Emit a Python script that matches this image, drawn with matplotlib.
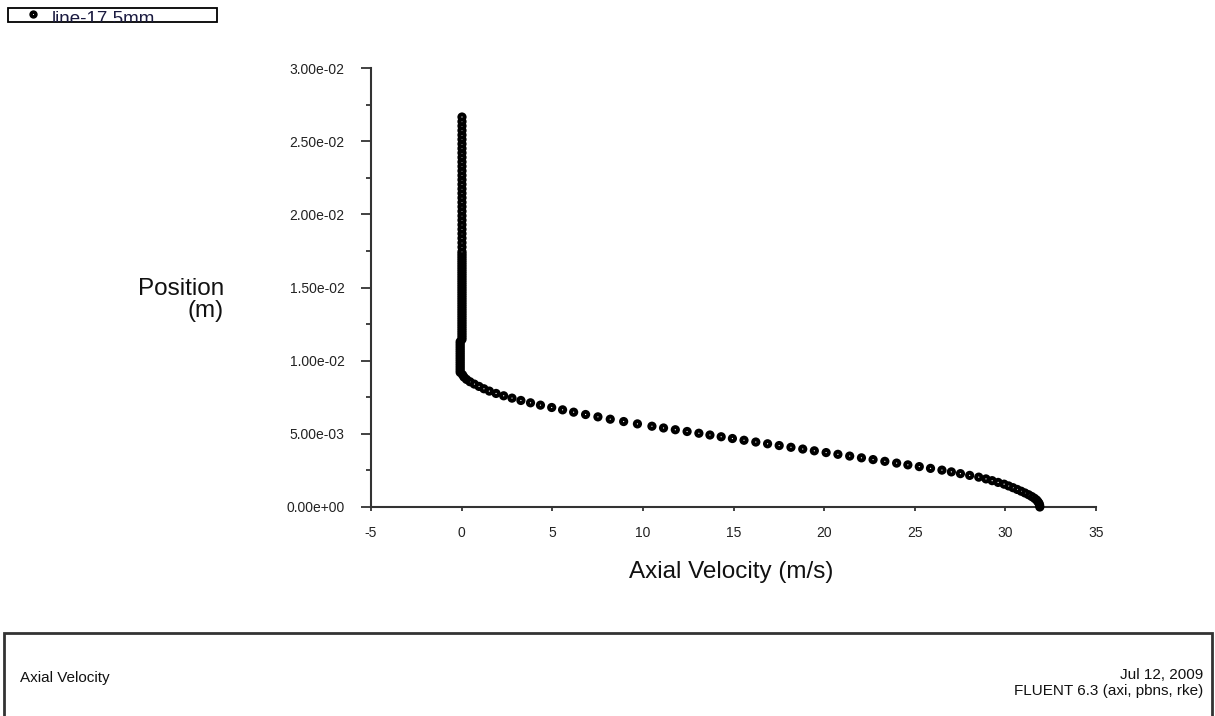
import numpy as np
import matplotlib
matplotlib.use('Agg')
import matplotlib.pyplot as plt
from matplotlib.patches import Rectangle

plt.rcParams['font.family'] = ['Liberation Sans', 'DejaVu Sans']

# perfil radial da velocidade axial (linha a 17.5 mm)
# jato: posicao em mm, velocidade em m/s
r_jato_mm = [0.00, 0.12, 0.24, 0.36, 0.48, 0.60, 0.72, 0.84, 0.96, 1.08,
             1.20, 1.32, 1.44, 1.56, 1.68, 1.80, 1.92, 2.04, 2.16, 2.28,
             2.40, 2.52, 2.64, 2.76, 2.88, 3.00, 3.12, 3.24, 3.36, 3.48,
             3.60, 3.72, 3.84, 3.96, 4.08, 4.20, 4.32, 4.44, 4.56, 4.68,
             4.80, 4.92, 5.04, 5.16, 5.28, 5.40, 5.52, 5.68, 5.84, 6.00,
             6.16, 6.32, 6.48, 6.64, 6.80, 6.96, 7.12, 7.28, 7.44, 7.60,
             7.76, 7.92, 8.08, 8.24, 8.40, 8.56, 8.72, 8.88, 9.04]
u_jato = [31.90, 31.89, 31.86, 31.80, 31.72, 31.60, 31.45, 31.28, 31.08, 30.87,
          30.65, 30.42, 30.18, 29.93, 29.60, 29.27, 28.93, 28.53, 28.03, 27.52,
          27.02, 26.50, 25.87, 25.25, 24.62, 24.00, 23.35, 22.70, 22.06, 21.41,
          20.76, 20.11, 19.46, 18.82, 18.17, 17.52, 16.88, 16.23, 15.58, 14.94,
          14.32, 13.70, 13.09, 12.44, 11.79, 11.14, 10.50, 9.70, 8.94, 8.20,
          7.52, 6.84, 6.18, 5.57, 4.97, 4.35, 3.80, 3.27, 2.78, 2.32,
          1.90, 1.53, 1.23, 0.96, 0.70, 0.46, 0.27, 0.13, 0.05]

# regiao parada (malha fina)
r_parado_mm = [9.20, 9.35, 9.50, 9.65, 9.80, 9.95, 10.10, 10.25, 10.40, 10.55,
               10.70, 10.85, 11.00, 11.15, 11.30, 11.45, 11.60, 11.75, 11.90, 12.05,
               12.20, 12.35, 12.50, 12.65, 12.80, 12.95, 13.10, 13.25, 13.40, 13.55,
               13.70, 13.85, 14.00, 14.15, 14.30, 14.45, 14.60, 14.75, 14.90, 15.05,
               15.20, 15.35, 15.50, 15.65, 15.80, 15.95, 16.10, 16.25, 16.40, 16.55,
               16.70, 16.85, 17.00, 17.15, 17.30]
u_parado = [-0.08, -0.08, -0.08, -0.08, -0.08, -0.08, -0.08, -0.08, -0.08, -0.08,
            -0.08, -0.08, -0.08, -0.08, -0.08, 0.02, 0.02, 0.02, 0.02, 0.02,
            0.02, 0.02, 0.02, 0.02, 0.02, 0.02, 0.02, 0.02, 0.02, 0.02,
            0.02, 0.02, 0.02, 0.02, 0.02, 0.02, 0.02, 0.02, 0.02, 0.02,
            0.02, 0.02, 0.02, 0.02, 0.02, 0.02, 0.02, 0.02, 0.02, 0.02,
            0.02, 0.02, 0.02, 0.02, 0.02]

# regiao superior (malha grossa)
r_topo_mm = [17.45, 17.76, 18.06, 18.37, 18.68, 18.98, 19.29, 19.60, 19.90, 20.21,
             20.52, 20.82, 21.13, 21.44, 21.74, 22.05, 22.36, 22.66, 22.97, 23.28,
             23.58, 23.89, 24.20, 24.50, 24.81, 25.12, 25.42, 25.73, 26.04, 26.34,
             26.65]
u_topo = [0.02, 0.02, 0.02, 0.02, 0.02, 0.02, 0.02, 0.02, 0.02, 0.02,
          0.02, 0.02, 0.02, 0.02, 0.02, 0.02, 0.02, 0.02, 0.02, 0.02,
          0.02, 0.02, 0.02, 0.02, 0.02, 0.02, 0.02, 0.02, 0.02, 0.02,
          0.02]

xticks = [-5, 0, 5, 10, 15, 20, 25, 30, 35]
yticks = [0.0, 0.005, 0.01, 0.015, 0.02, 0.025, 0.03]

W, H = 1215, 716
fig = plt.figure(figsize=(W / 100, H / 100), dpi=100)
ax = fig.add_axes([371 / W, 1 - 507 / H, (1096 - 371) / W, (507 - 68) / H])

u = np.array(u_jato + u_parado + u_topo)
r = np.array(r_jato_mm + r_parado_mm + r_topo_mm) / 1000.0

# cada ponto: circulo preto e um pontinho branco no meio, na ordem
xs = np.repeat(u, 2)
ys = np.repeat(r, 2)
tam = np.tile([44, 0.8], len(u))
cores = np.tile([[0, 0, 0, 1], [1, 1, 1, 1]], (len(u), 1))
ax.scatter(xs, ys, s=tam, c=cores, marker='o', linewidths=0,
           clip_on=False, zorder=5)

ax.set_xlim(-5, 35)
ax.set_ylim(0, 0.03)
ax.set_xticks(xticks)
ax.set_xticklabels([str(t) for t in xticks])
ax.set_yticks(yticks)
ax.set_yticklabels(['%.2e' % t for t in yticks])
ax.set_yticks([0.0025, 0.0075, 0.0125, 0.0175, 0.0225, 0.0275], minor=True)

for lado in ['top', 'right']:
    ax.spines[lado].set_visible(False)
for lado in ['left', 'bottom']:
    ax.spines[lado].set_color('#333333')
    ax.spines[lado].set_linewidth(1.5)

ax.tick_params(axis='y', which='major', direction='out', length=7, width=1.3,
               color='#333333', pad=12, labelsize=10, labelcolor='#222222')
ax.tick_params(axis='y', which='minor', direction='out', length=3.5, width=1.3,
               color='#333333')
ax.tick_params(axis='x', which='major', direction='out', length=3, width=1.3,
               color='#333333', pad=11, labelsize=10, labelcolor='#222222')

fig.text(731 / W, 1 - 572 / H, 'Axial Velocity (m/s)', ha='center', va='center',
         fontsize=17.5, color='#111111')
fig.text(224 / W, 1 - 300 / H, 'Position\n(m)', ha='right', va='center',
         multialignment='right', fontsize=17.5, color='#111111', linespacing=1.0)

# caixa da legenda no canto
caixa = Rectangle((8 / W, 1 - 22 / H), (217 - 8) / W, 14 / H, fill=False,
                  ec='black', lw=1.3, transform=fig.transFigure)
fig.patches.append(caixa)
fig.lines.append(plt.Line2D([33 / W], [1 - 14 / H], marker='o', ms=6, mew=0,
                            color='black', transform=fig.transFigure))
fig.lines.append(plt.Line2D([33 / W], [1 - 14 / H], marker='o', ms=0.8, mew=0,
                            color='white', transform=fig.transFigure))
leg = fig.text(52 / W, 1 - 11 / H, 'line-17.5mm', ha='left', va='top',
               fontsize=13.5, color='#1a1a40')
leg.set_clip_path(caixa)

# rodape do FLUENT
rodape = Rectangle((4 / W, -0.05), (1212 - 4) / W, (1 - 633 / H) + 0.05,
                   fill=False, ec='#333333', lw=2, transform=fig.transFigure)
fig.patches.append(rodape)
fig.text(20 / W, 1 - 678 / H, 'Axial Velocity', ha='left', va='center',
         fontsize=11, color='#111111')
fig.text(1203 / W, 1 - 683 / H, 'Jul 12, 2009\nFLUENT 6.3 (axi, pbns, rke)',
         ha='right', va='center', multialignment='right', fontsize=11,
         color='#111111', linespacing=1.15)

fig.savefig('out.png', dpi=100)
